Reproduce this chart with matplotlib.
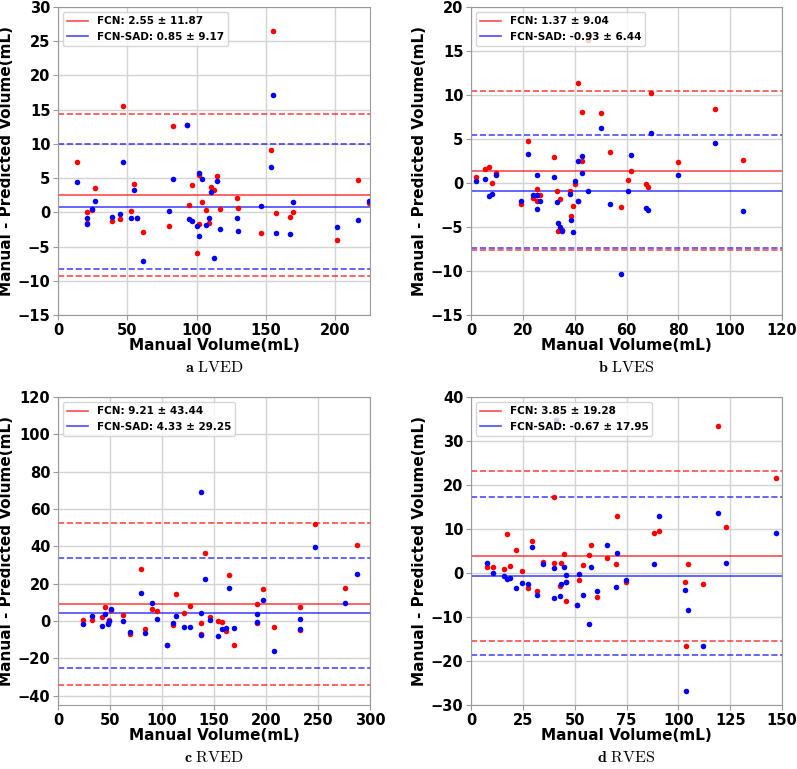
import numpy as np
import matplotlib
matplotlib.use("Agg")
import matplotlib.pyplot as plt

plt.rcParams['mathtext.fontset'] = 'cm'

# ---- panel a: LVED ----
a_x = [13.8, 21.2, 21.0, 24.8, 26.7, 38.6, 44.6, 47.0, 52.8, 54.5, 57.1, 61.4, 80.2, 83.0, 93.3, 94.5,
       96.9, 100.5, 101.4, 101.7, 103.9, 107.0, 109.0, 110.6, 112.5, 114.7, 117.0, 129.4, 130.0, 146.3,
       153.5, 155.4, 157.0, 167.0, 169.4, 201.4, 216.0, 224.0]
a_fcn = [7.3, 0.1, -1.6, 0.3, 3.6, -1.3, -1.0, 15.5, 0.2, 4.2, -0.8, -2.9, -2.0, 12.6, 12.7, 1.1,
         4.0, -6.0, -1.7, 5.4, 1.5, 0.3, -1.5, 3.7, 3.2, 5.3, 0.5, 2.1, 0.7, -3.0,
         9.1, 26.5, -0.1, -0.7, 0.0, -4.0, 4.7, 1.3]
a_sad = [4.5, -0.8, -1.7, 0.5, 1.6, -0.7, -0.2, 7.4, -0.8, 3.2, -0.8, -7.1, 0.2, 4.9, 12.7, -1.0,
         -1.3, -2.0, -3.5, 5.7, 4.8, -1.9, -0.8, 3.0, -6.7, 4.6, -2.4, -0.8, -2.8, 0.9,
         6.6, 17.1, -3.0, -3.2, 1.5, -2.2, -1.1, 1.6]

# ---- panel b: LVES ----
b_x = [1.9, 5.5, 7.0, 8.1, 9.8, 19.1, 22.0, 24.0, 25.4, 25.5, 25.6, 26.5, 32.0, 33.2, 33.4, 34.3,
       35.2, 38.3, 38.5, 39.2, 40.1, 41.1, 41.4, 42.7, 42.8, 45.2, 50.1, 53.7, 57.9, 60.7, 61.7,
       67.4, 68.2, 69.5, 79.9, 94.2, 105.0]
b_fcn = [0.7, 1.6, 1.8, 0.0, 1.1, -2.4, 4.8, -1.7, -1.4, -0.7, -2.0, -1.4, 2.9, -0.9, -5.4, -1.8,
         -5.3, -0.9, -3.8, -2.6, -0.1, -2.0, 11.4, 2.5, 8.1, 16.3, 7.9, 3.5, -2.7, 0.3, 1.4,
         -0.1, -0.4, 10.2, 2.4, 8.4, 2.6]
b_sad = [0.2, 0.4, -1.5, -1.2, 0.9, -2.0, 3.3, -1.4, -1.4, 0.9, -2.9, -2.0, 0.7, -2.2, -4.5, -5.0,
         -5.4, -1.2, -4.2, -5.6, 0.2, -2.0, 2.5, 1.1, 3.1, -0.9, 6.3, -2.4, -10.3, -0.9, 3.2,
         -2.8, -3.1, 5.7, 0.9, 4.6, -3.2]

# ---- panel c: RVED ----
c_x = [24.0, 33.0, 42.0, 44.9, 48.4, 48.7, 50.6, 62.2, 69.2, 79.8, 84.0, 90.4, 95.2, 105.1, 110.9,
       113.5, 121.5, 126.6, 137.5, 137.6, 137.8, 141.7, 145.8, 153.5, 158.0, 161.9, 164.4, 169.6,
       191.0, 191.3, 197.4, 207.7, 232.4, 232.6, 246.8, 276.0, 287.5]
c_fcn = [0.4, 0.5, 2.3, 7.5, -1.2, 0.7, 6.0, 3.4, -7.1, 27.7, -4.4, 6.4, 5.3, -13.0, -2.0,
         14.6, 4.1, 8.0, -0.9, np.nan, -6.7, 36.6, 2.0, 0.0, -0.7, -5.2, 24.5, -12.8,
         -1.2, 9.1, 16.9, -3.2, 7.6, -4.8, 52.0, 17.8, 40.7]
c_sad = [-1.6, 2.7, -2.7, 3.6, -1.6, -0.2, 6.4, 0.0, -6.0, 14.9, -6.2, 9.8, 1.1, -13.1, -1.1,
         2.5, -3.0, -3.2, 4.3, 69.3, -7.6, 22.7, 0.5, -8.3, -4.3, -3.9, 17.6, -3.6,
         -0.4, 3.6, 11.4, -16.0, 0.9, -4.1, 39.6, 9.8, 25.2]

# ---- panel d: RVES ----
d_x = [7.9, 10.4, 15.7, 17.6, 18.9, 21.5, 24.5, 27.3, 29.3, 31.8, 34.8, 39.8, 40.1, 41.1, 42.7,
       43.6, 44.7, 45.9, 46.0, 51.2, 52.3, 53.9, 56.8, 57.7, 60.6, 65.4, 69.9, 70.6, 74.7, 88.2,
       90.8, 103.0, 103.6, 104.9, 111.8, 119.0, 123.2, 147.1]
d_fcn = [1.4, 1.3, 0.8, 8.8, 1.5, 5.2, 0.5, -3.5, 7.2, -4.0, 2.5, 2.2, 17.3, np.nan, -2.9,
         2.2, 4.3, -6.3, -2.0, -7.2, -1.7, 1.8, 4.2, 6.3, -5.5, 3.5, 2.1, 13.0, -2.0, 9.0,
         9.5, -2.1, -16.6, 2.0, -2.6, 33.4, 10.4, 21.5]
d_sad = [2.3, 0.0, -0.6, -1.4, -1.1, -3.3, -2.2, -2.4, 5.8, -4.9, 2.1, -5.6, 1.2, 34.8, -5.2,
         -2.6, 1.4, -0.5, -2.0, -7.2, -0.2, -5.1, -11.7, 1.4, -4.0, 6.4, -3.2, 4.6, -1.5, 2.0,
         13.0, -3.9, -26.9, -8.4, -16.7, 13.6, 2.2, 9.1]

# mean and limits of agreement as printed in the legends
fcn_stats = [(2.55, 11.87), (1.37, 9.04), (9.21, 43.44), (3.85, 19.28)]
sad_stats = [(0.85, 9.17), (-0.93, 6.44), (4.33, 29.25), (-0.67, 17.95)]

captions = ['a', 'b', 'c', 'd']
names = ['LVED', 'LVES', 'RVED', 'RVES']
xlims = [(0, 225), (0, 120), (0, 300), (0, 150)]
ylims = [(-15, 30), (-15, 20), (-45, 120), (-30, 40)]
xticks = [np.arange(0, 226, 50), np.arange(0, 121, 20), np.arange(0, 301, 50), np.arange(0, 151, 25)]
yticks = [np.arange(-15, 31, 5), np.arange(-15, 21, 5), np.arange(-40, 121, 20), np.arange(-30, 41, 10)]

xs = [a_x, b_x, c_x, d_x]
fcns = [a_fcn, b_fcn, c_fcn, d_fcn]
sads = [a_sad, b_sad, c_sad, d_sad]

W, H = 797, 769
fig = plt.figure(figsize=(W / 100, H / 100), dpi=100)

# axes boxes in pixels (left, top, right, bottom)
boxes = [(58, 7, 370, 315), (471, 7, 782, 315), (58, 397, 370, 705), (471, 397, 782, 705)]

for i in range(4):
    l, t, r, b = boxes[i]
    ax = fig.add_axes([l / W, 1 - b / H, (r - l) / W, (b - t) / H])
    ax.grid(True, color='#d4d4d4', linewidth=1.0)
    ax.set_axisbelow(True)
    for s in ax.spines.values():
        s.set_color('#999999')
    ax.tick_params(colors='#999999', labelcolor='black', length=3.5, pad=2)

    m, d = fcn_stats[i]
    ax.axhline(m, color='red', alpha=0.7, lw=1.2,
               label='FCN: %.2f ± %.2f' % (m, d))
    ax.axhline(m + d, color='red', alpha=0.7, lw=1.2, ls='--')
    ax.axhline(m - d, color='red', alpha=0.7, lw=1.2, ls='--')
    m, d = sad_stats[i]
    ax.axhline(m, color='blue', alpha=0.7, lw=1.2,
               label='FCN-SAD: %.2f ± %.2f' % (m, d))
    ax.axhline(m + d, color='blue', alpha=0.7, lw=1.2, ls='--')
    ax.axhline(m - d, color='blue', alpha=0.7, lw=1.2, ls='--')

    ax.plot(xs[i], fcns[i], 'o', color='red', ms=4, mec='none')
    ax.plot(xs[i], sads[i], 'o', color='blue', ms=4, mec='none')

    ax.set_xlim(xlims[i])
    ax.set_ylim(ylims[i])
    ax.set_xticks(xticks[i])
    ax.set_yticks(yticks[i])
    for lab in ax.get_xticklabels() + ax.get_yticklabels():
        lab.set_fontweight('bold')
        lab.set_fontsize(10.5)
    ax.set_xlabel('Manual Volume(mL)', fontsize=11, fontweight='bold', labelpad=0)
    ax.set_ylabel('Manual - Predicted Volume(mL)', fontsize=11, fontweight='bold')
    ax.yaxis.set_label_coords(-44.0 / (r - l), 0.5)
    ax.legend(loc='upper left', prop={'weight': 'bold', 'size': 7.5})

    fig.text((l + r) / 2 / W, 1 - (b + 53) / H,
             r'$\mathbf{%s}\ \mathrm{%s}$' % (captions[i], names[i]),
             ha='center', va='center', fontsize=11.5)

fig.savefig('out.png', dpi=100)
